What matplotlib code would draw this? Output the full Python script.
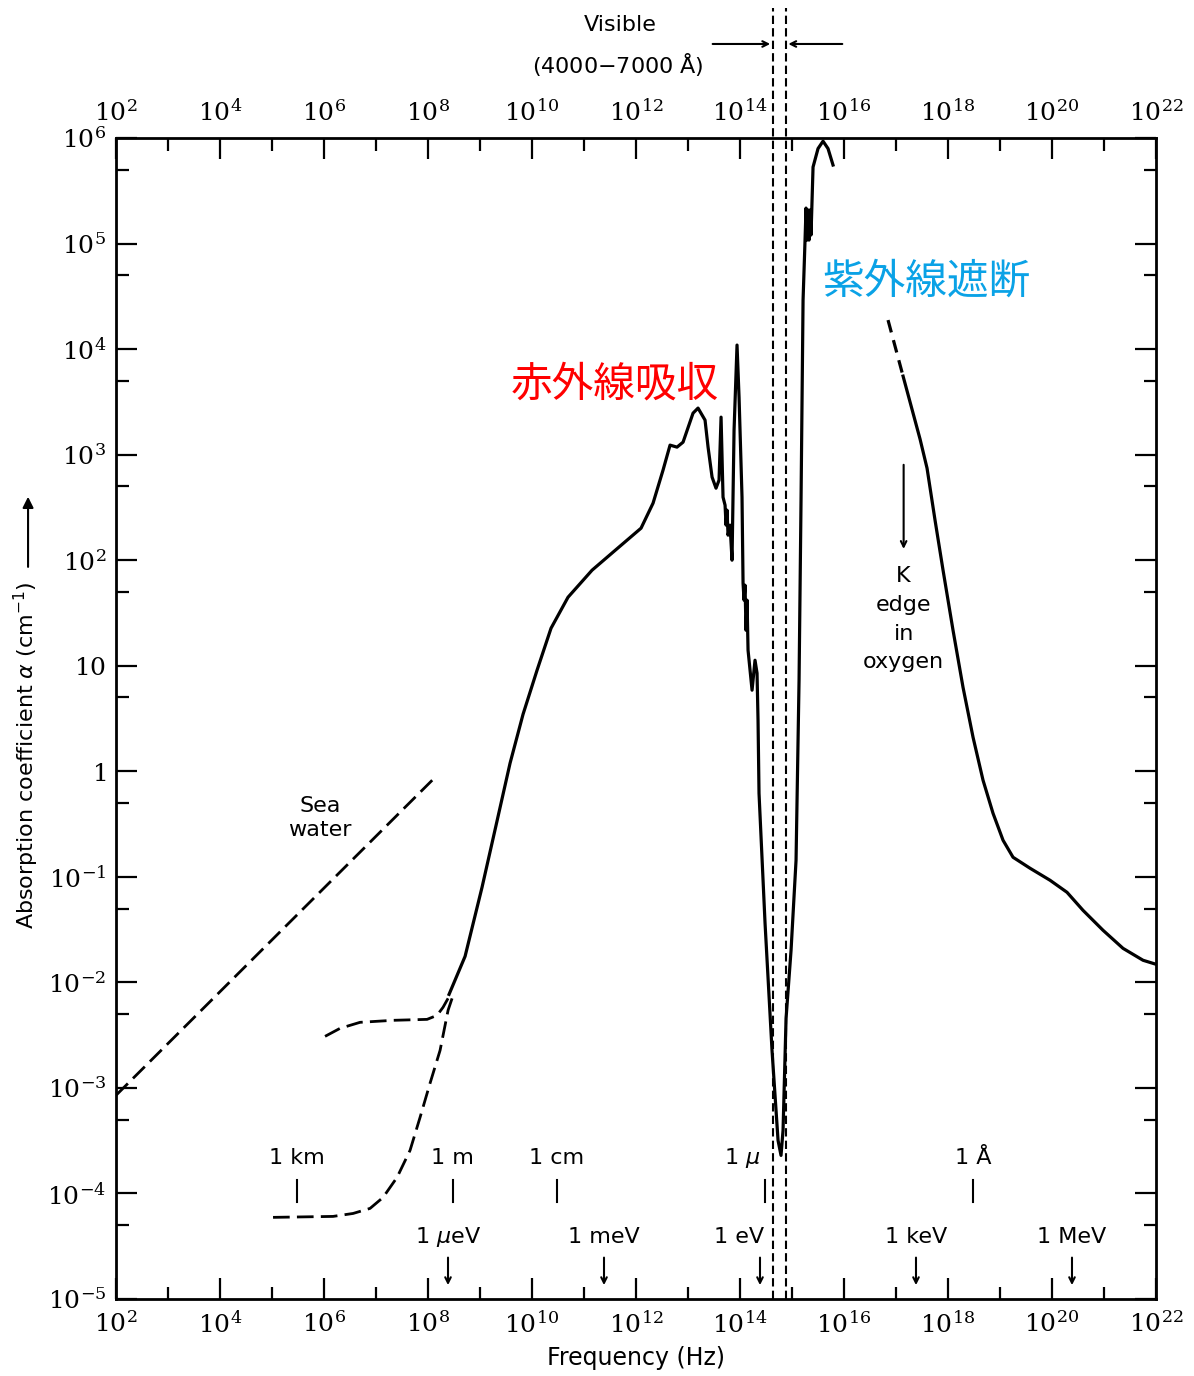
import matplotlib
matplotlib.use('Agg')
import matplotlib.pyplot as plt
import numpy as np

plt.rcParams['font.family'] = ['DejaVu Sans']
plt.rcParams['mathtext.fontset'] = 'dejavuserif'

# 数据: log10(频率 Hz), log10(吸收系数 cm^-1)
ir_logf = [8.404, 8.712, 9.038, 9.308, 9.577, 9.827, 10.096, 10.365, 10.692,
           11.154, 11.558, 12.096, 12.327, 12.519, 12.654, 12.788, 12.904,
           13.096, 13.192, 13.327, 13.385, 13.462, 13.538, 13.596, 13.635,
           13.673, 13.712, 13.731, 13.75, 13.769, 13.808, 13.846, 13.885,
           13.942, 13.981, 14.038, 14.058, 14.077, 14.096, 14.115, 14.135,
           14.154, 14.231, 14.288, 14.327, 14.346, 14.365, 14.481, 14.615,
           14.731, 14.788, 14.827, 14.885, 14.981, 15.077, 15.135, 15.173,
           15.212, 15.25, 15.269, 15.288, 15.308, 15.327, 15.346, 15.365,
           15.404, 15.5, 15.596, 15.692, 15.788]
ir_loga = [-2.114, -1.754, -1.100, -0.512, 0.076, 0.540, 0.957, 1.355, 1.649,
           1.905, 2.076, 2.303, 2.540, 2.853, 3.090, 3.071, 3.118,
           3.393, 3.441, 3.327, 3.071, 2.787, 2.682, 2.758, 3.355,
           2.597, 2.521, 2.332, 2.474, 2.237, 2.332, 2.0, 3.232,
           4.038, 3.545, 2.597, 1.782, 1.621, 1.763, 1.336, 1.621,
           1.147, 0.768, 1.052, 0.929, 0.483, -0.209, -1.441, -2.645,
           -3.498, -3.64, -3.403, -2.341, -1.697, -0.844, 0.863, 2.569,
           4.464, 5.033, 5.336, 5.033, 5.318, 5.033, 5.318, 5.081,
           5.725, 5.9, 5.97, 5.9, 5.744]

# X射线部分
xr_dash_logf = [16.846, 17.135]
xr_dash_loga = [4.275, 3.744]
xr_logf = [17.135, 17.462, 17.596, 17.75, 17.904, 18.096, 18.288, 18.481,
           18.673, 18.865, 19.058, 19.25, 19.577, 19.962, 20.288, 20.596,
           20.981, 21.365, 21.75, 22.0]
xr_loga = [3.744, 3.147, 2.872, 2.379, 1.905, 1.336, 0.796, 0.322,
           -0.085, -0.398, -0.654, -0.815, -0.919, -1.033, -1.147, -1.318,
           -1.507, -1.678, -1.791, -1.829]

# 海水
sea_logf = [2.0, 8.08]
sea_loga = [-3.07, -0.085]

# 低频虚线 (上, 下)
up_logf = [6.019, 6.308, 6.692, 7.327, 7.981, 8.173, 8.288, 8.385]
up_loga = [-2.512, -2.436, -2.379, -2.360, -2.351, -2.313, -2.237, -2.152]
low_logf = [5.019, 6.173, 6.558, 6.885, 7.135, 7.404, 7.654, 7.846, 8.038,
            8.231, 8.385, 8.462]
low_loga = [-4.227, -4.218, -4.190, -4.142, -4.038, -3.848, -3.592, -3.280,
            -2.957, -2.645, -2.265, -2.152]

# 波长和能量标记
wave_labels = ['1 km', '1 m', '1 cm', '1 $\\mu$', '1 Å']
wave_freq = [3e5, 3e8, 3e10, 3e14, 3e18]
wave_label_freq = [3e5, 3e8, 3e10, 1.1e14, 3e18]
energy_labels = ['1 $\\mu$eV', '1 meV', '1 eV', '1 keV', '1 MeV']
energy_freq = [2.42e8, 2.42e11, 2.42e14, 2.42e17, 2.42e20]
energy_label_freq = [2.42e8, 2.42e11, 9.5e13, 2.42e17, 2.42e20]
visible_freq = [4.3e14, 7.5e14]
k_edge_freq = 1.4e17

x_major = list(range(2, 23, 2))
x_minor = list(range(3, 22, 2))
y_major = list(range(-5, 7))
y_minor = list(range(-5, 6))


def ylab(k):
    if k == 0:
        return '$1$'
    if k == 1:
        return '$10$'
    return '$10^{%d}$' % k


fig = plt.figure(figsize=(11.94, 13.76), dpi=100)
ax = fig.add_axes([0.0972, 0.0560, 0.8710, 0.8437])
ax.set_xscale('log')
ax.set_yscale('log')
ax.set_xlim(1e2, 1e22)
ax.set_ylim(1e-5, 1e6)

dash = (0, (6, 2.6))
ax.plot(10 ** np.array(ir_logf), 10 ** np.array(ir_loga), color='black', lw=2.3,
        solid_joinstyle='round')
ax.plot(10 ** np.array(xr_logf), 10 ** np.array(xr_loga), color='black', lw=2.3,
        solid_joinstyle='round')
ax.plot(10 ** np.array(xr_dash_logf), 10 ** np.array(xr_dash_loga), color='black',
        lw=2.3, ls=(0, (4, 2.5)))
ax.plot(10 ** np.array(sea_logf), 10 ** np.array(sea_loga), color='black', lw=2, ls=dash)
ax.plot(10 ** np.array(up_logf), 10 ** np.array(up_loga), color='black', lw=2, ls=dash)
ax.plot(10 ** np.array(low_logf), 10 ** np.array(low_loga), color='black', lw=2, ls=dash)

# 可见光
for f in visible_freq:
    ax.axvline(f, ymin=0, ymax=1.112, color='black', lw=1.5, ls=(0, (4, 2)), clip_on=False)
tr = ax.get_xaxis_transform()
ax.annotate('', xy=(visible_freq[0], 1.081), xytext=(10 ** 13.42, 1.081), xycoords=tr,
            annotation_clip=False, arrowprops=dict(arrowstyle='->', lw=1.5, color='black'))
ax.annotate('', xy=(visible_freq[1], 1.081), xytext=(10 ** 16.02, 1.081), xycoords=tr,
            annotation_clip=False, arrowprops=dict(arrowstyle='->', lw=1.5, color='black'))
ax.text(10 ** 11.69, 1.097, 'Visible', transform=tr, ha='center', va='center', fontsize=16)
ax.text(10 ** 11.65, 1.063, '(4000$-$7000 Å)', transform=tr, ha='center', va='center',
        fontsize=16, math_fontfamily='dejavusans')

# 波长标记
for lab, f, fl in zip(wave_labels, wave_freq, wave_label_freq):
    ax.plot([f, f], [0.0835, 0.1025], transform=tr, color='black', lw=1.5)
    ax.text(fl, 0.121, lab, transform=tr, ha='center', va='center', fontsize=16,
            math_fontfamily='dejavusans')

# 能量标记
for lab, f, fl in zip(energy_labels, energy_freq, energy_label_freq):
    ax.annotate('', xy=(f, 0.0095), xytext=(f, 0.038), xycoords=tr,
                arrowprops=dict(arrowstyle='->', lw=1.5, color='black'))
    ax.text(fl, 0.0535, lab, transform=tr, ha='center', va='center', fontsize=16,
            math_fontfamily='dejavusans')

# K 边
ax.annotate('', xy=(k_edge_freq, 10 ** 2.08), xytext=(k_edge_freq, 10 ** 2.93),
            arrowprops=dict(arrowstyle='->', lw=1.5, color='black'))
ax.text(k_edge_freq, 10 ** 1.44, 'K\nedge\nin\noxygen', ha='center', va='center',
        fontsize=16, linespacing=1.55)
ax.text(10 ** 5.92, 10 ** -0.445, 'Sea\nwater', ha='center', va='center', fontsize=16,
        linespacing=1.25)

ax.text(10 ** 11.6, 10 ** 3.66, '赤外線吸収', color='#ff0000', fontsize=30,
        family=['Noto Sans CJK JP'], ha='center', va='center')
ax.text(10 ** 17.58, 10 ** 4.63, '紫外線遮断', color='#0aa2e6', fontsize=30,
        family=['Noto Sans CJK JP'], ha='center', va='center')

# 坐标轴
ax.set_xticks([10.0 ** k for k in x_major])
ax.set_xticklabels(['$10^{%d}$' % k for k in x_major])
ax.set_xticks([10.0 ** k for k in x_minor], minor=True)
ax.set_yticks([10.0 ** k for k in y_major])
ax.set_yticklabels([ylab(k) for k in y_major])
ax.set_yticks([5 * 10.0 ** k for k in y_minor], minor=True)
ax.yaxis.set_minor_formatter(matplotlib.ticker.NullFormatter())
ax.xaxis.set_minor_formatter(matplotlib.ticker.NullFormatter())
ax.tick_params(which='both', direction='in', top=True, right=True, labeltop=True,
               labelsize=18, width=1.6, color='black')
ax.tick_params(which='major', length=15)
ax.tick_params(which='minor', length=9)
ax.tick_params(axis='x', pad=9)
ax.tick_params(axis='y', pad=7)
for s in ax.spines.values():
    s.set_linewidth(2)

ax.set_xlabel('Frequency (Hz)', fontsize=17, labelpad=6)
fig.text(0.022, 0.451, 'Absorption coefficient $\\alpha$ (cm$^{-1}$)', rotation=90,
         ha='center', va='center', fontsize=16, math_fontfamily='dejavusans')
fig.add_artist(matplotlib.patches.FancyArrowPatch((0.0235, 0.586), (0.0235, 0.641),
               transform=fig.transFigure, arrowstyle='-|>', mutation_scale=16, lw=1.5,
               color='black'))

plt.savefig('out.png', dpi=100)
